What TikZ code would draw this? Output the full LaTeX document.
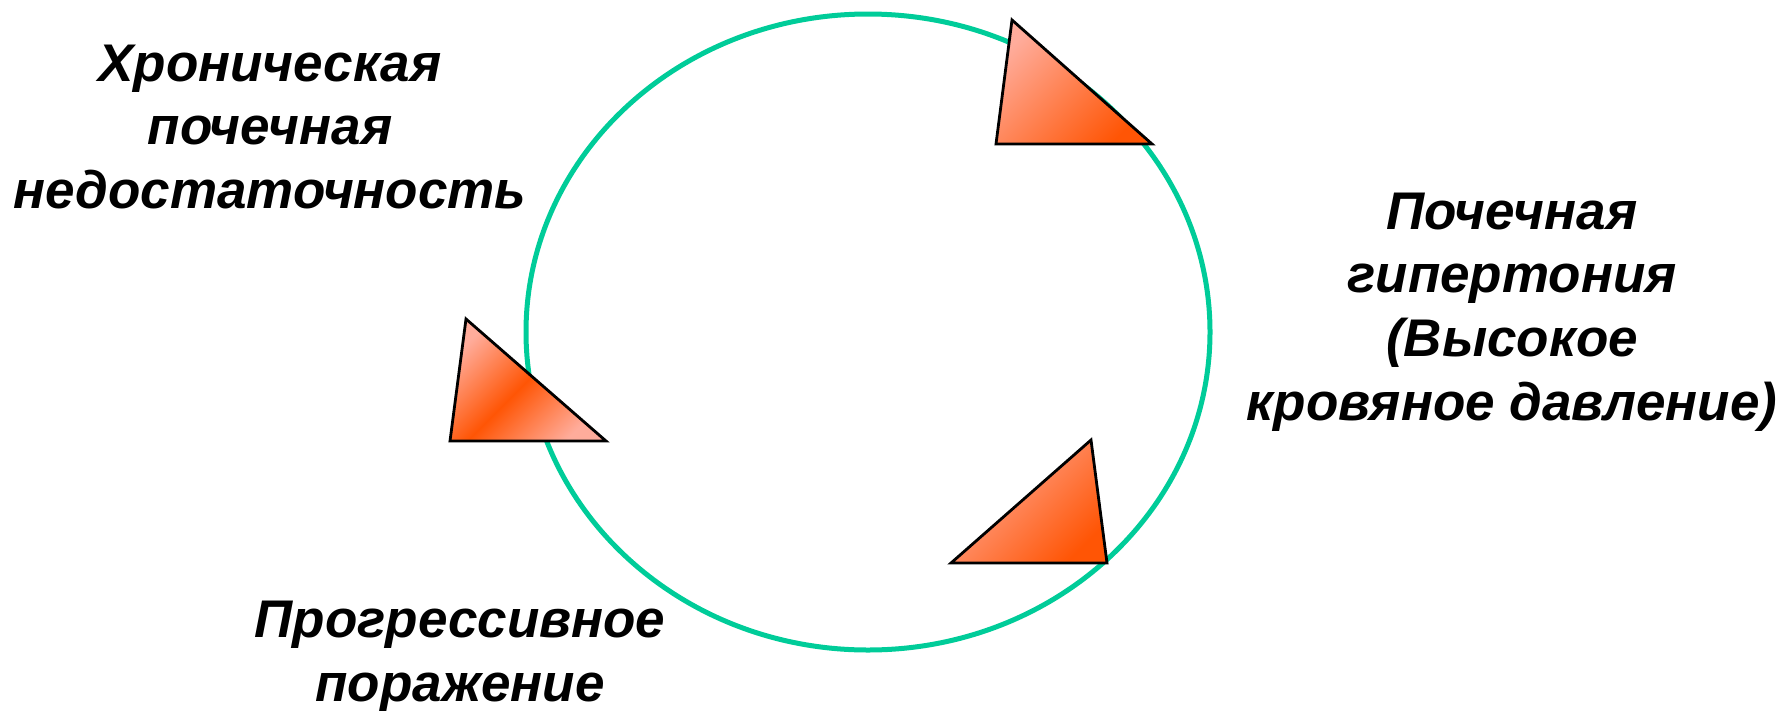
\documentclass[tikz,border=0pt]{standalone}
\usepackage{fontspec}
\setmainfont{Liberation Sans}
\usepackage{tikz}
\definecolor{cycleGreen}{RGB}{0,204,153}
\definecolor{tipLight}{RGB}{255,172,155}
\definecolor{tipDark}{RGB}{255,85,5}

\begin{document}
\begin{tikzpicture}[
      x=1pt, y=-1pt,
      lbl/.style={align=center, inner sep=0pt,
                  font=\fontsize{53}{63.6}\selectfont\bfseries\itshape},
      cyc/.style={draw=cycleGreen, line width=5pt},
      tip/.style={draw=black, line width=2.8pt, line join=miter}
    ]
      \useasboundingbox (0,0) rectangle (1782,710);
      % the cycle
      \draw[cyc] (868,332) ellipse [x radius=342, y radius=318];
      % arrow heads on the cycle
      \shade[tip, left color=tipLight, right color=tipDark, shading angle=45]
        (1012,20) -- (996,144) -- (1152,144) -- cycle;
      \shade[tip, left color=tipLight, right color=tipLight, middle color=tipDark, shading angle=45]
        (466,319) -- (450,441) -- (606,441) -- cycle;
      \shade[tip, left color=tipLight, right color=tipDark, shading angle=45]
        (1091,440) -- (1107,563) -- (951,563) -- cycle;
      % labels
      \node[lbl] (ckd) at (270,127) {Хроническая\\почечная\\недостаточность};
      \node[lbl] (hyp) at (1512,312) {Почечная\\гипертония\\(Высокое\\кровяное давление)};
      \node[lbl] (dmg) at (460,657) {Прогрессивное\\поражение};
    \end{tikzpicture}
\end{document}
